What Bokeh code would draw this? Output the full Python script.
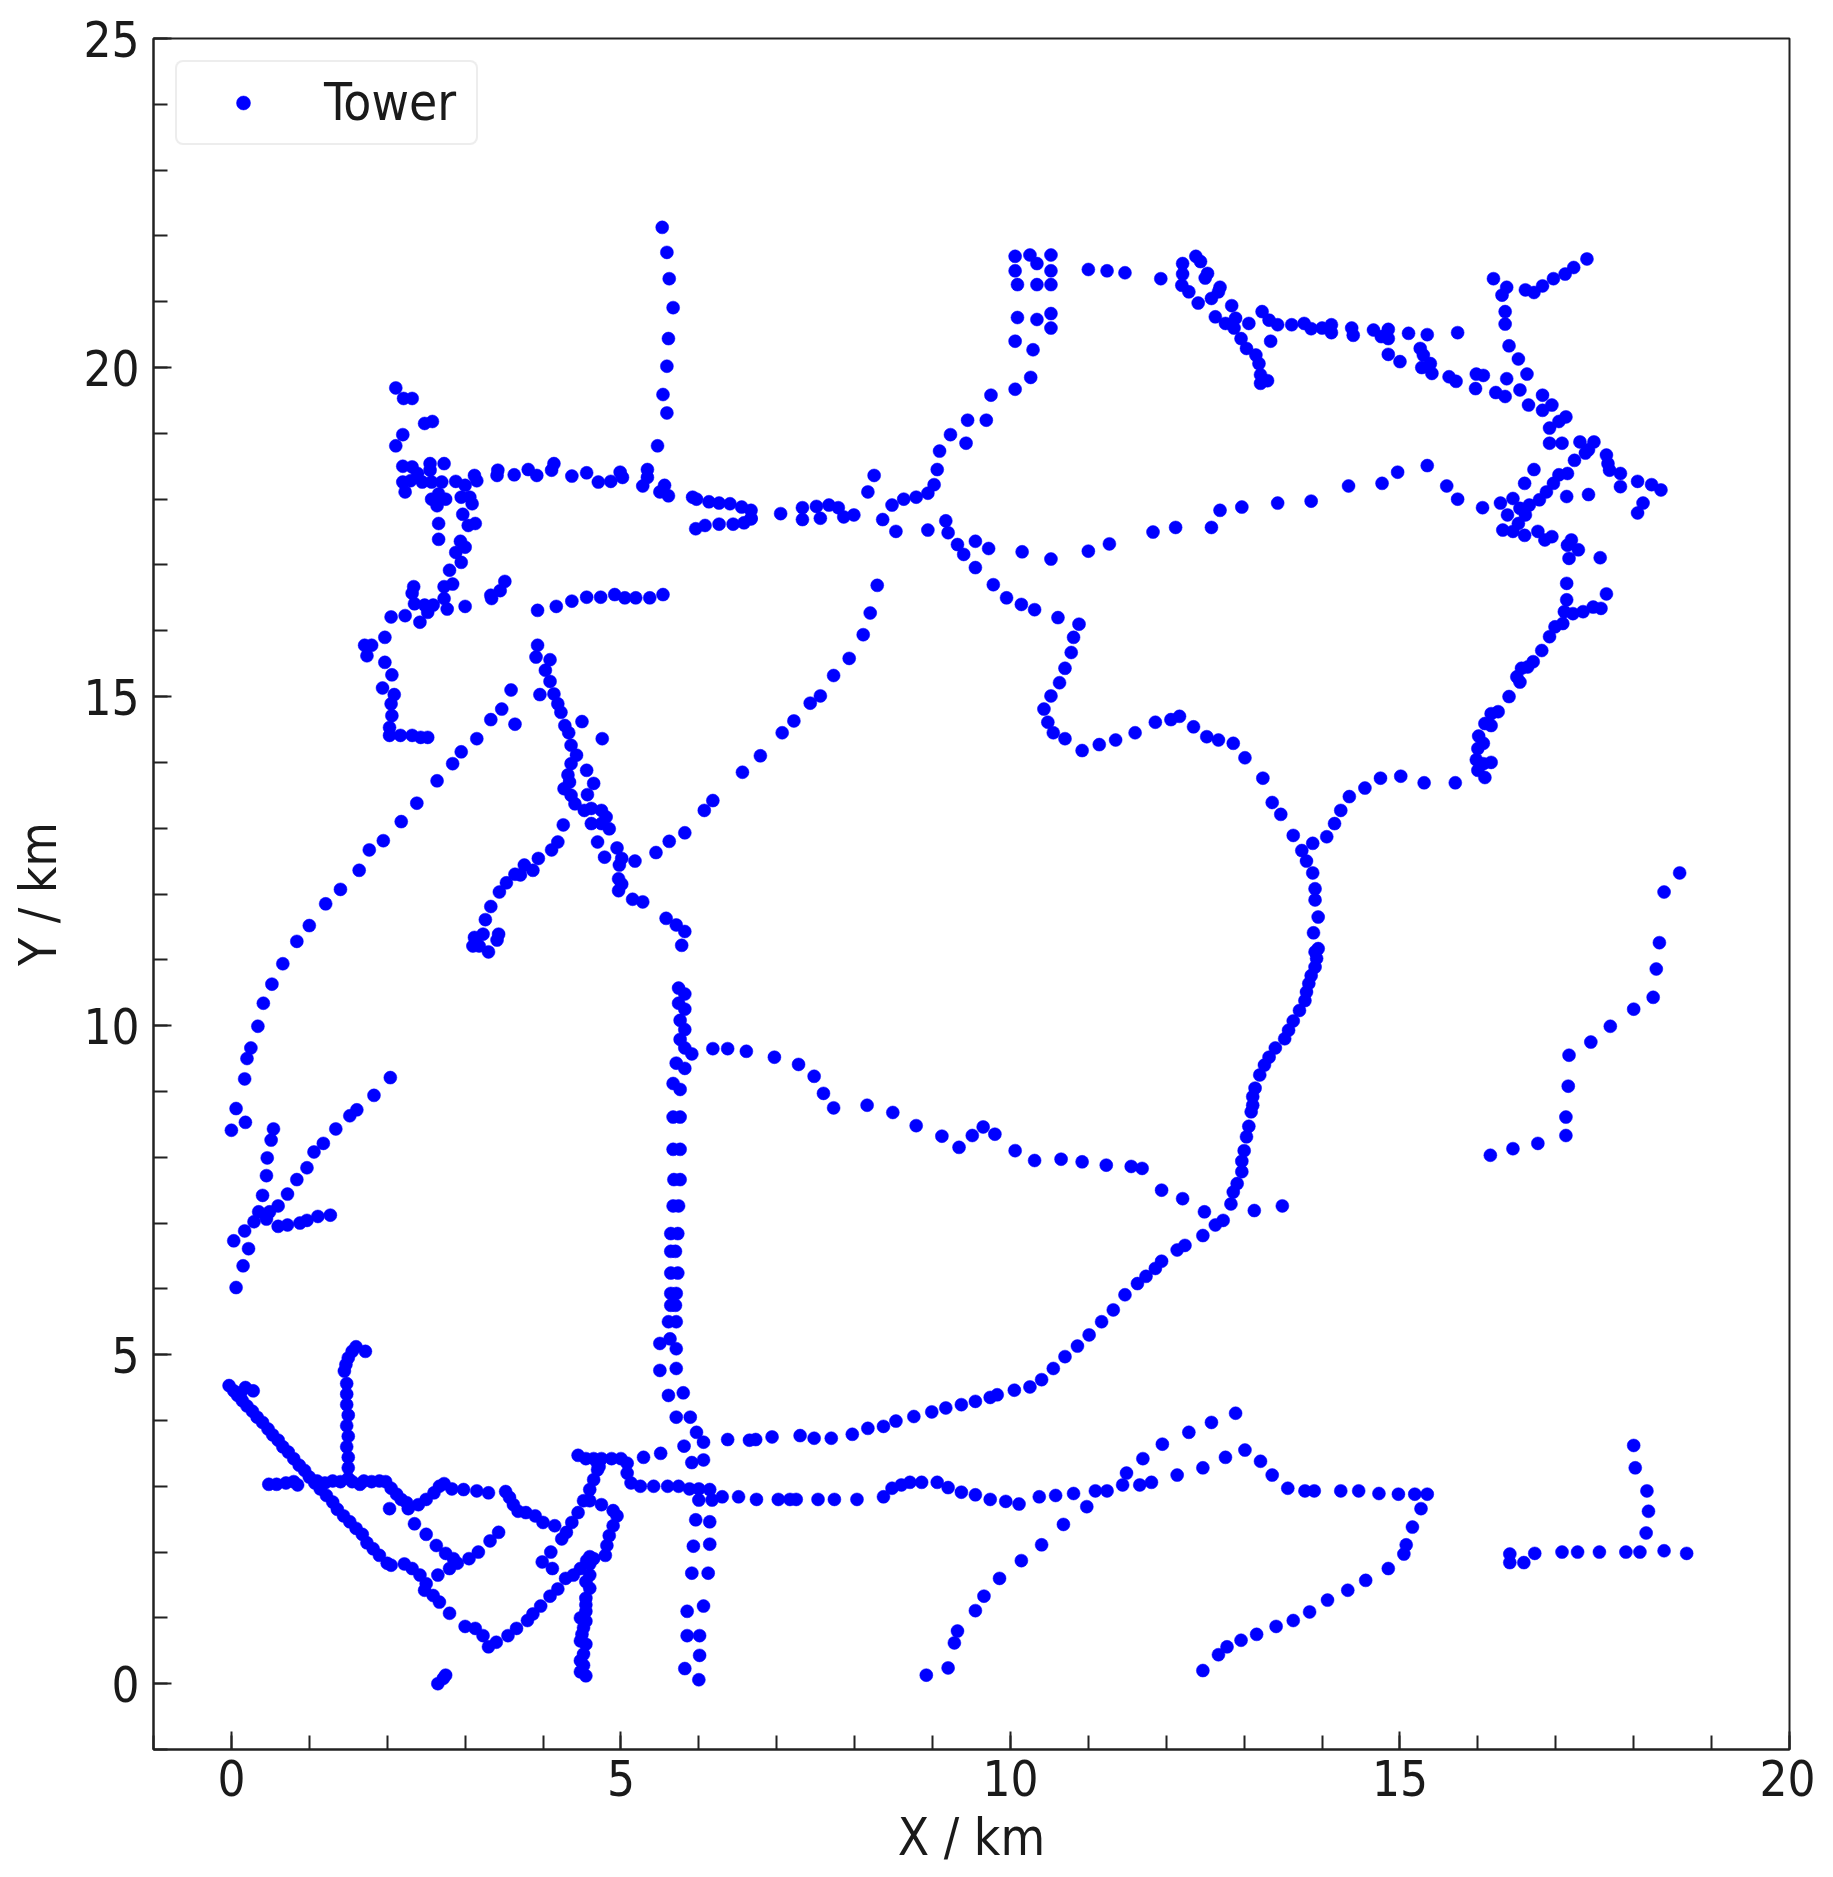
from bokeh.plotting import figure
from bokeh.models import Legend, LegendItem, ColumnDataSource, FixedTicker
from bokeh.embed import file_html
from bokeh.resources import INLINE

sw_diagonal = [(-0.03,4.53),(0.03,4.45),(0.08,4.38),(0.14,4.3),(0.2,4.22),(0.27,4.14),(0.33,4.05),(0.4,3.97),(0.47,3.87),(0.53,3.78),(0.6,3.7),(0.66,3.6),(0.73,3.52),(0.8,3.42),(0.87,3.32),(0.94,3.24),(1.0,3.14),(1.07,3.05),(1.14,2.96),(1.22,2.86),(1.3,2.76),(1.36,2.65),(1.44,2.55),(1.52,2.46),(1.6,2.36),(1.68,2.27),(1.74,2.14),(1.82,2.05),(1.9,1.95),(2.0,1.83),(2.05,1.8),(0.18,4.5),(0.28,4.45),(0.12,4.42),
 (2.22,1.82),(2.32,1.75),(2.42,1.65),(2.5,1.52),(2.48,1.42),(2.59,1.34),(2.67,1.24),(2.8,1.07),(3.0,0.87),(3.13,0.84),(3.23,0.73),(3.3,0.56),(3.4,0.63),(3.55,0.73),(3.66,0.84),(3.8,0.96),(3.87,1.06),(3.97,1.18),(4.09,1.33),(4.19,1.44),(4.29,1.6),(4.39,1.65),(4.48,1.75),(4.56,1.87),(4.6,1.93)]
sw_spur = [(1.5,3.12),(1.5,3.28),(1.5,3.44),(1.48,3.6),(1.5,3.76),(1.48,3.92),(1.5,4.08),(1.48,4.24),(1.48,4.4),(1.48,4.56),(1.45,4.75),(1.47,4.85),(1.5,4.95),(1.55,5.05),(1.6,5.12),(1.72,5.05)]
sw_row = [(0.48,3.03),(0.58,3.03),(0.7,3.05),(0.8,3.07),(0.85,3.02),(1.1,3.08),(1.2,3.05),(1.3,3.08),(1.4,3.07),(1.55,3.07),(1.65,3.03),(1.7,3.08),(1.8,3.07),(1.9,3.08),(1.98,3.07),(2.05,2.97),(2.12,2.88),(2.18,2.8),(2.25,2.75),(2.27,2.66),(2.4,2.72),(2.5,2.8),(2.6,2.9),(2.67,3.0),(2.73,3.04),(2.83,2.96),(2.98,2.95),(3.15,2.93),(3.3,2.9),(3.52,2.92),(3.57,2.83),(3.62,2.72),(3.68,2.62),(3.78,2.6),(3.9,2.55),(4.0,2.45),(4.15,2.4),(4.24,2.2),(4.3,2.3),(4.37,2.45),(4.45,2.6),(4.52,2.78),(4.6,2.95),(4.65,3.1),(4.7,3.25),(4.72,3.3),
 (4.45,3.47),(4.55,3.42),(4.65,3.42),(4.7,3.35),(4.75,3.42),(4.88,3.42),(5.0,3.42),(5.08,3.35),(5.08,3.2),(5.13,3.05),(5.25,3.0),(5.42,3.0),(5.6,3.0),(5.29,3.44),(5.51,3.5),(6.37,3.71),(6.65,3.7)]
sw_branch = [(3.43,2.3),(3.32,2.17),(3.17,2.0),(3.05,1.9),(2.03,2.66),(2.35,2.43),(2.5,2.27),(2.63,2.1),(2.75,1.98),(2.85,1.9),(2.9,1.83),(2.8,1.75),(2.65,1.65),
 (4.6,2.78),(4.75,2.72),(4.9,2.63),(4.95,2.55),(4.9,2.4),(4.85,2.25),(4.82,2.1),(4.8,1.95),(4.65,1.9),(3.99,1.85),(4.1,2.0),(4.12,1.75),
 (4.6,1.82),(4.6,1.65),(4.55,1.55),(4.6,1.45),(4.55,1.3),(4.55,1.2),(4.55,1.1),(4.48,1.0),(4.55,0.95),(4.52,0.85),(4.48,0.65),(4.55,0.6),(4.52,0.45),(4.48,0.35),(4.52,0.28),(4.48,0.18),(4.55,0.12),(4.5,0.75),
 (2.65,0.0),(2.72,0.08),(2.75,0.13)]
south_pair = [(5.61,5.5),(5.71,5.5),(5.63,5.24),(5.5,5.17),(5.71,5.09),(5.5,4.76),(5.71,4.79),(5.61,4.38),(5.8,4.42),(5.71,4.05),(5.89,4.05),(5.97,3.82),(6.06,3.67),(5.81,3.61),(5.91,3.36),(6.06,3.4),(5.74,3.0),(5.88,2.96),(6.0,2.96),(6.0,2.79),(6.14,2.95),(6.17,2.79),(6.3,2.84),(5.96,2.49),(6.14,2.46),(5.93,2.09),(6.14,2.12),(5.91,1.68),(6.12,1.68),(5.85,1.1),(6.06,1.18),(5.85,0.73),(6.01,0.73),(6.01,0.43),(5.82,0.23),(6.0,0.06)]
mid_vertical = [(5.74,10.57),(5.82,10.48),(5.74,10.34),(5.82,10.25),(5.76,10.08),(5.82,9.94),(5.76,9.79),(5.82,9.66),(5.71,9.43),(5.82,9.35),(5.67,9.12),(5.76,9.03),(5.67,8.61),(5.76,8.61),(5.67,8.12),(5.76,8.12),(5.68,7.66),(5.76,7.66),(5.67,7.26),(5.74,7.26),(5.64,6.84),(5.73,6.84),(5.64,6.57),(5.7,6.57),(5.64,6.24),(5.73,6.24),(5.64,5.93),(5.71,5.93),(5.64,5.75),(5.7,5.75)]
ring_road = [(6.73,3.71),(6.94,3.75),(7.3,3.77),(7.48,3.73),(7.7,3.73),(7.97,3.79),(8.17,3.88),(8.37,3.91),(8.53,3.99),(8.76,4.06),(8.99,4.13),(9.17,4.19),(9.37,4.24),(9.55,4.29),(9.74,4.35),(9.83,4.39),(10.05,4.46),(10.25,4.51),(10.4,4.62),(10.55,4.79),(10.7,4.97),(10.86,5.13),(11.01,5.3),(11.17,5.5),(11.32,5.68),(11.47,5.91),(11.63,6.08),(11.74,6.19),(11.86,6.31),(11.94,6.42),(12.14,6.59),(12.24,6.66),(12.47,6.81),(12.63,6.97),(12.73,7.04),
 (12.83,7.29),(12.86,7.47),(12.91,7.6),(12.97,7.78),(12.97,7.94),(13.0,8.1),(13.03,8.31),(13.06,8.47),(13.09,8.69),(13.11,8.79),(13.11,8.92),(13.14,9.05),(13.2,9.25),(13.26,9.4),(13.32,9.52),(13.4,9.66),(13.52,9.8),(13.57,9.93),(13.63,10.07),(13.71,10.23),(13.78,10.38),(13.8,10.51),(13.83,10.64),(13.86,10.76),(13.91,10.89),(13.93,11.02),(13.91,11.12),(13.95,11.17),(13.89,11.41),(13.95,11.65),(13.91,11.91),(13.91,12.08),(13.88,12.32),(13.8,12.5),(13.74,12.66),(13.88,12.77),(14.06,12.87),(13.63,12.89),
 (13.47,13.21),(13.36,13.39),(13.24,13.76),(13.01,14.07),(12.86,14.29),(12.67,14.34),(12.52,14.39),(12.35,14.54),(12.17,14.7),(12.06,14.65),(11.86,14.61),(11.6,14.45),(11.35,14.34),(11.14,14.27),(10.92,14.18),(10.7,14.36),(10.55,14.45),(10.48,14.61),(10.43,14.81),(10.52,15.01),(10.63,15.21),(10.7,15.43),(10.78,15.67),(10.81,15.9),(10.88,16.1),(10.61,16.2),(10.31,16.32),(10.14,16.4),(9.95,16.5),(9.78,16.7),(9.55,16.96),(9.4,17.16),(9.32,17.31),(9.2,17.49),(9.17,17.67),(8.94,17.53)]
ne_road = [(14.16,13.07),(14.24,13.27),(14.35,13.48),(14.55,13.61),(14.75,13.76),(15.01,13.79),(15.31,13.69),(15.71,13.69),(16.09,13.77),(16.0,13.88),(16.07,13.98),(16.17,14.0),(15.98,14.04),(16.0,14.21),(16.07,14.29),(16.01,14.4),(16.17,14.56),(16.09,14.59),(16.17,14.74),(16.26,14.77),(16.4,15.0),(16.54,15.22),(16.5,15.3),(16.56,15.43),(16.64,15.45),(16.71,15.53),(16.82,15.7),(16.92,15.91),(16.99,16.06),(17.09,16.11),(17.11,16.29),(17.22,16.26),(17.35,16.29),(17.48,16.36),(17.58,16.34),(17.65,16.56),(17.14,16.47),(17.14,16.72),(17.17,17.1),(17.29,17.23),(17.15,17.3),(17.2,17.38),(17.57,17.11),(16.95,17.43),(16.86,17.38),(16.77,17.51),(16.6,17.45),(16.45,17.51),(16.32,17.53),(16.52,17.63),(16.61,17.76),(16.38,17.76),(16.29,17.94),(16.45,18.01),(16.54,17.86),(16.66,17.91),(16.79,17.99),(16.88,18.11),(16.97,18.24),(17.04,18.37),(17.15,18.39),(17.24,18.59),(17.38,18.7),(17.49,18.87),(17.31,18.87),(17.08,18.85),(16.92,18.85),(16.92,19.08),(17.04,19.18),(17.13,19.25),(16.83,19.35),(16.95,19.43),(16.83,19.58),(16.65,19.43),(16.54,19.66),(16.35,19.56),(16.23,19.62),(16.37,19.83),(16.63,19.9),(16.52,20.13),(16.4,20.33),(16.35,20.66),(16.35,20.85),(16.31,21.1),(16.37,21.22),(16.2,21.35),(16.61,21.18),(16.72,21.14),(16.83,21.24),(16.97,21.35),(17.12,21.42),(17.23,21.52),(17.4,21.65),(17.42,18.75),(17.65,18.67),(17.67,18.54),(17.69,18.44),(17.83,18.39),(17.83,18.19),(18.05,18.27),(18.23,18.22),(18.35,18.14),(18.12,17.94),(18.05,17.79),(17.14,18.04),(17.42,18.07),(16.72,18.45),(16.6,18.24)]
east_west_road = [(9.55,17.36),(9.72,17.25),(10.15,17.2),(10.52,17.09),(11.0,17.21),(11.27,17.32),(11.83,17.5),(12.12,17.57),(12.58,17.57),(12.69,17.83),(12.97,17.88),(13.43,17.94),(13.86,17.97),(14.34,18.2),(14.77,18.24),(14.97,18.41),(15.35,18.51),(15.6,18.2),(15.74,18.0),(16.06,17.87)]
north_band = [(11.0,21.49),(11.24,21.47),(11.47,21.44),(11.93,21.35),(12.21,21.58),(12.21,21.42),(12.2,21.25),(12.29,21.15),(12.41,20.98),(12.38,21.69),(12.44,21.61),(12.53,21.43),(12.5,21.36),(12.69,21.22),(12.67,21.15),(12.58,21.05),(12.84,20.94),(12.63,20.77),(12.76,20.67),(12.89,20.75),(13.06,20.67),(12.87,20.6),(12.96,20.44),(13.03,20.29),(13.15,20.19),(13.19,20.06),(13.21,19.89),(13.21,19.76),(13.3,19.8),(13.23,20.85),(13.32,20.72),(13.43,20.65),(13.34,20.4),(13.61,20.65),(13.77,20.67),(13.86,20.59),(14.0,20.6),(14.12,20.65),(14.12,20.53),(14.38,20.6),(14.4,20.49),(14.66,20.57),(14.76,20.47),(14.85,20.58),(14.85,20.44),(15.11,20.52),(15.35,20.5),(15.74,20.53),(14.85,20.2),(15.0,20.09),(15.26,20.29),(15.3,20.19),(15.39,20.06),(15.28,20.0),(15.41,19.91),(15.63,19.86),(15.72,19.79),(15.97,19.68),(15.98,19.9),(16.07,19.88)]
north_columns = [(10.06,21.69),(10.06,21.47),(10.09,21.26),(10.09,20.76),(10.06,20.4),(10.25,21.71),(10.34,21.58),(10.34,21.26),(10.34,20.73),(10.29,20.27),(10.52,21.71),(10.52,21.47),(10.52,21.26),(10.52,20.82),(10.52,20.6),(10.26,19.85),(10.06,19.67),(9.75,19.58),(9.69,19.2),(9.45,19.2),(9.43,18.85),(9.23,18.98),(9.09,18.73),(9.06,18.45),(9.02,18.22),(8.94,18.09),(8.79,18.03),(8.63,18.0),(8.48,17.91),(8.36,17.69),(8.53,17.51),(8.25,18.36),(8.17,18.11)]
central_row = [(7.99,17.76),(7.86,17.73),(7.79,17.87),(7.67,17.91),(7.56,17.71),(7.51,17.89),(7.33,17.69),(7.33,17.87),(7.05,17.78),(6.67,17.71),(5.92,18.03),(5.97,18.0),(6.13,17.96),(6.26,17.94),(6.4,17.93),(6.55,17.88),(6.67,17.83),(5.96,17.55),(6.08,17.6),(6.26,17.62),(6.44,17.62),(6.58,17.64),(6.67,17.7)]
nw_cluster = [(2.11,19.69),(2.21,19.53),(2.32,19.53),(2.48,19.15),(2.58,19.18),(2.2,18.98),(2.11,18.81),(2.2,18.5),(2.32,18.49),(2.55,18.54),(2.73,18.54),(2.55,18.44),(2.39,18.39),(2.2,18.26),(2.3,18.28),(2.45,18.26),(2.57,18.26),(2.7,18.26),(2.88,18.27),(3.12,18.36),(3.15,18.28),(3.0,18.21),(2.23,18.11),(2.57,18.0),(2.75,18.0),(2.64,17.9),(2.95,18.03),(3.06,18.03),(3.09,17.93),(2.66,18.08),(2.97,17.77),(2.66,17.63),(3.04,17.6),(3.13,17.63),(2.66,17.39),(2.94,17.36),(3.0,17.27),(2.88,17.19),(2.95,17.04),(2.8,16.92),(2.84,16.71),(2.73,16.67),(2.34,16.67),(2.32,16.57),(2.73,16.49),(2.35,16.41),(2.48,16.39),(2.59,16.39),(2.52,16.28),(2.77,16.33),(3.0,16.37),(2.23,16.23),(2.05,16.21),(2.42,16.13),(3.33,16.54),(3.45,16.61),(3.51,16.75),(3.34,16.49),(1.97,15.9),(1.71,15.78),(1.8,15.78),(1.74,15.62),(1.97,15.52),(2.06,15.33),(1.94,15.13),(2.09,15.03),(2.05,14.89),(2.06,14.71),(2.03,14.53),(2.03,14.41),(2.17,14.41),(2.32,14.41),(2.43,14.38),(2.52,14.38)]
north_row = [(3.41,18.36),(3.42,18.44),(3.63,18.37),(3.81,18.45),(3.92,18.36),(4.11,18.44),(4.14,18.54),(4.37,18.35),(4.56,18.4),(4.71,18.26),(4.87,18.27),(4.99,18.41),(5.02,18.33),(5.28,18.2),(5.34,18.33),(5.34,18.45),(5.47,18.81),(5.56,18.21),(5.5,18.11),(5.61,18.05),(5.59,20.02),(5.54,19.59),(5.59,19.31),(5.53,22.13),(5.59,21.75),(5.62,21.35),(5.67,20.91),(5.61,20.44)]
row_165 = [(3.93,16.31),(4.17,16.37),(4.37,16.45),(4.56,16.51),(4.74,16.51),(4.92,16.55),(5.05,16.5),(5.19,16.5),(5.37,16.5),(5.54,16.55)]
central_diag = [(3.93,15.78),(3.91,15.6),(4.09,15.56),(4.03,15.4),(4.09,15.23),(3.96,15.03),(4.14,15.04),(4.19,14.89),(4.23,14.76),(4.28,14.56),(4.33,14.45),(4.5,14.62),(4.76,14.36),(4.36,14.26),(4.43,14.11),(4.36,13.98),(4.56,13.88),(4.32,13.81),(4.65,13.68),(4.34,13.7),(4.27,13.6),(4.36,13.5),(4.57,13.51),(4.41,13.37),(4.53,13.27),(4.62,13.3),(4.75,13.27),(4.81,13.17),(4.62,13.07),(4.75,13.07),(4.85,12.99),(4.7,12.79),(4.95,12.7),(4.79,12.56),(5.01,12.54),(4.98,12.44),(5.18,12.5),(4.97,12.23),(5.01,12.15),(4.97,12.05),(5.15,11.92),(5.28,11.88),(5.58,11.63),(5.71,11.53),(5.82,11.43),(5.78,11.22)]
ne_diag = [(5.45,12.63),(5.62,12.8),(5.82,12.93),(6.07,13.27),(6.18,13.42),(6.56,13.85),(6.79,14.1),(7.07,14.45),(7.22,14.63),(7.43,14.9),(7.56,15.01),(7.73,15.32),(7.93,15.58),(8.11,15.94),(8.2,16.27),(8.29,16.69)]
small_arc = [(4.26,13.05),(4.19,12.79),(4.11,12.67),(3.94,12.54),(3.87,12.36),(3.76,12.44),(3.71,12.29),(3.64,12.3),(3.53,12.17),(3.44,12.03),(3.33,11.81),(3.26,11.61),(3.12,11.34),(3.18,11.21),(3.3,11.12),(3.41,11.3),(3.43,11.39),(3.23,11.39),(3.1,11.21)]
west_arc = [(3.59,15.1),(3.64,14.58),(3.47,14.81),(3.33,14.65),(3.15,14.36),(2.95,14.16),(2.84,13.98),(2.64,13.72),(2.38,13.38),(2.18,13.1),(1.95,12.81),(1.77,12.67),(1.64,12.36),(1.4,12.07),(1.21,11.85),(1.0,11.52),(0.84,11.28),(0.66,10.94),(0.52,10.63),(0.41,10.34),(0.34,9.99),(0.25,9.66),(0.2,9.5),(0.17,9.19),(0.06,8.74),(0.18,8.53),(0.0,8.41)]
west_branches = [(2.04,9.21),(1.83,8.94),(1.61,8.72),(1.52,8.63),(1.34,8.43),(1.18,8.21),(1.06,8.08),(0.97,7.84),(0.84,7.66),(0.72,7.44),(0.6,7.26),(0.49,7.17),(0.54,8.43),(0.51,8.26),(0.46,7.99),(0.45,7.72),(0.4,7.42),(0.35,7.17),(0.29,7.02),(0.17,6.88),(0.03,6.73),(0.22,6.61),(0.15,6.35),(0.06,6.02),(0.45,7.06),(0.6,6.95),(0.72,6.97),(0.88,7.0),(0.97,7.04),(1.11,7.1),(1.27,7.12)]
mid_road = [(5.91,9.57),(6.18,9.65),(6.37,9.65),(6.61,9.61),(6.97,9.52),(7.28,9.41),(7.48,9.23),(7.6,8.97),(7.73,8.75),(8.16,8.79),(8.49,8.68),(8.79,8.48),(9.12,8.32),(9.34,8.15),(9.51,8.33),(9.65,8.46),(9.8,8.35),(10.06,8.1),(10.31,7.95),(10.65,7.97),(10.92,7.93),(11.23,7.88),(11.55,7.86),(11.69,7.83),(11.94,7.5),(12.21,7.37),(12.49,7.17),(13.13,7.19),(13.49,7.26)]
south_road = [(6.51,2.84),(6.74,2.8),(7.02,2.8),(7.17,2.8),(7.25,2.8),(7.53,2.8),(7.74,2.8),(8.03,2.8),(8.37,2.84),(8.48,2.97),(8.6,3.02),(8.71,3.06),(8.86,3.06),(9.06,3.06),(9.2,2.98),(9.37,2.91),(9.55,2.87),(9.74,2.8),(9.94,2.77),(10.11,2.73),(10.37,2.84),(10.58,2.86),(10.81,2.89),(11.09,2.93),(11.24,2.93),(11.44,3.02),(11.66,3.02),(11.81,3.06),(12.14,3.17),(12.47,3.28),(12.76,3.44),(13.01,3.55),(13.21,3.38),(13.36,3.17),(13.56,2.97),(13.78,2.93),(13.9,2.93),(14.24,2.93),(14.47,2.93),(14.73,2.89),(14.98,2.88),(15.19,2.88),(15.35,2.88),(11.49,3.2),(11.7,3.42),(11.95,3.64),(12.29,3.82),(12.58,3.97),(12.89,4.11)]
se_road = [(15.27,2.66),(15.16,2.38),(15.08,2.11),(15.05,1.97),(14.85,1.75),(14.56,1.57),(14.33,1.42),(14.07,1.27),(13.84,1.09),(13.63,0.96),(13.41,0.87),(13.16,0.75),(12.96,0.66),(12.78,0.56),(12.67,0.44),(12.47,0.2),(10.68,2.42),(10.98,2.69),(10.4,2.11),(10.14,1.87),(9.86,1.6),(9.66,1.33),(9.55,1.11),(9.32,0.8),(9.28,0.62),(9.2,0.24),(8.92,0.13)]
far_se = [(18.0,3.62),(18.02,3.28),(18.17,2.93),(18.19,2.62),(18.16,2.29),(18.08,2.0),(17.9,2.0),(18.39,2.02),(18.68,1.98),(17.56,2.0),(17.28,2.0),(17.08,2.0),(16.73,1.98),(16.59,1.84),(16.41,1.84),(16.41,1.97)]
far_east = [(18.59,12.32),(18.39,12.03),(18.33,11.26),(18.29,10.86),(18.25,10.43),(18.0,10.25),(17.7,9.99),(17.45,9.75),(17.17,9.55),(17.16,9.08),(17.13,8.61),(17.13,8.33),(16.77,8.21),(16.45,8.13),(16.16,8.03)]

tracks = [sw_diagonal, sw_spur, sw_row, sw_branch, south_pair, mid_vertical, ring_road, ne_road,
          east_west_road, north_band, north_columns, central_row, nw_cluster, north_row, row_165,
          central_diag, ne_diag, small_arc, west_arc, west_branches, mid_road, south_road, se_road,
          far_se, far_east]
tower_x = [pt[0] for tr in tracks for pt in tr]
tower_y = [pt[1] for tr in tracks for pt in tr]

x_major = [0, 5, 10, 15, 20]
y_major = [0, 5, 10, 15, 20, 25]
series_name = "Tower"
x_title = "X / km"
y_title = "Y / km"

FONT = "DejaVu Sans Condensed"
INK = "#1a1a1a"

p = figure(width=1811, height=1861, frame_width=1636, frame_height=1711,
           x_range=(-1, 20), y_range=(-1, 25), output_backend="svg", toolbar_location=None,
           min_border_left=146, min_border_right=26, min_border_top=38, min_border_bottom=112,
           margin=(0, 0, 0, 6),
           background_fill_color="white", border_fill_color="white")
p.grid.visible = False
p.outline_line_color = "#222222"
p.outline_line_width = 2

for ax, ticks in ((p.xaxis[0], x_major), (p.yaxis[0], y_major)):
    ax.ticker = FixedTicker(ticks=ticks, minor_ticks=[float(v) for v in range(-1, 26)])
    ax.major_tick_in = 18
    ax.major_tick_out = 0
    ax.minor_tick_in = 14
    ax.minor_tick_out = 0
    ax.major_tick_line_color = "#222222"
    ax.minor_tick_line_color = "#222222"
    ax.major_tick_line_width = 2
    ax.minor_tick_line_width = 2
    ax.axis_line_color = "#222222"
    ax.axis_line_width = 2
    ax.major_label_text_font = FONT
    ax.major_label_text_font_size = "49px"
    ax.major_label_text_color = INK
    ax.axis_label_text_font = FONT
    ax.axis_label_text_font_style = "normal"
    ax.axis_label_text_font_size = "51px"
    ax.axis_label_text_color = INK
p.xaxis[0].axis_label = x_title
p.yaxis[0].axis_label = y_title
p.xaxis[0].major_label_standoff = 10
p.yaxis[0].major_label_standoff = 14
p.xaxis[0].axis_label_standoff = 9
p.yaxis[0].axis_label_standoff = 12

src = ColumnDataSource(dict(x=tower_x, y=tower_y))
r = p.scatter("x", "y", source=src, size=13, marker="circle", fill_color="#0000ff", line_color="#0000ff", line_width=0.5)

legend = Legend(items=[LegendItem(label=series_name, renderers=[r])],
                location=(22, 1604), margin=0, padding=11, glyph_width=110, glyph_height=35,
                label_standoff=26, label_height=40, label_width=141, spacing=0,
                label_text_font=FONT, label_text_font_size="51px", label_text_color=INK,
                border_line_color="#dcdcdc", border_line_width=2,
                background_fill_color="white", background_fill_alpha=1.0)
if "border_radius" in Legend.properties():
    legend.border_radius = 8
p.add_layout(legend, "center")

open("out.html", "w").write(file_html(p, INLINE))
